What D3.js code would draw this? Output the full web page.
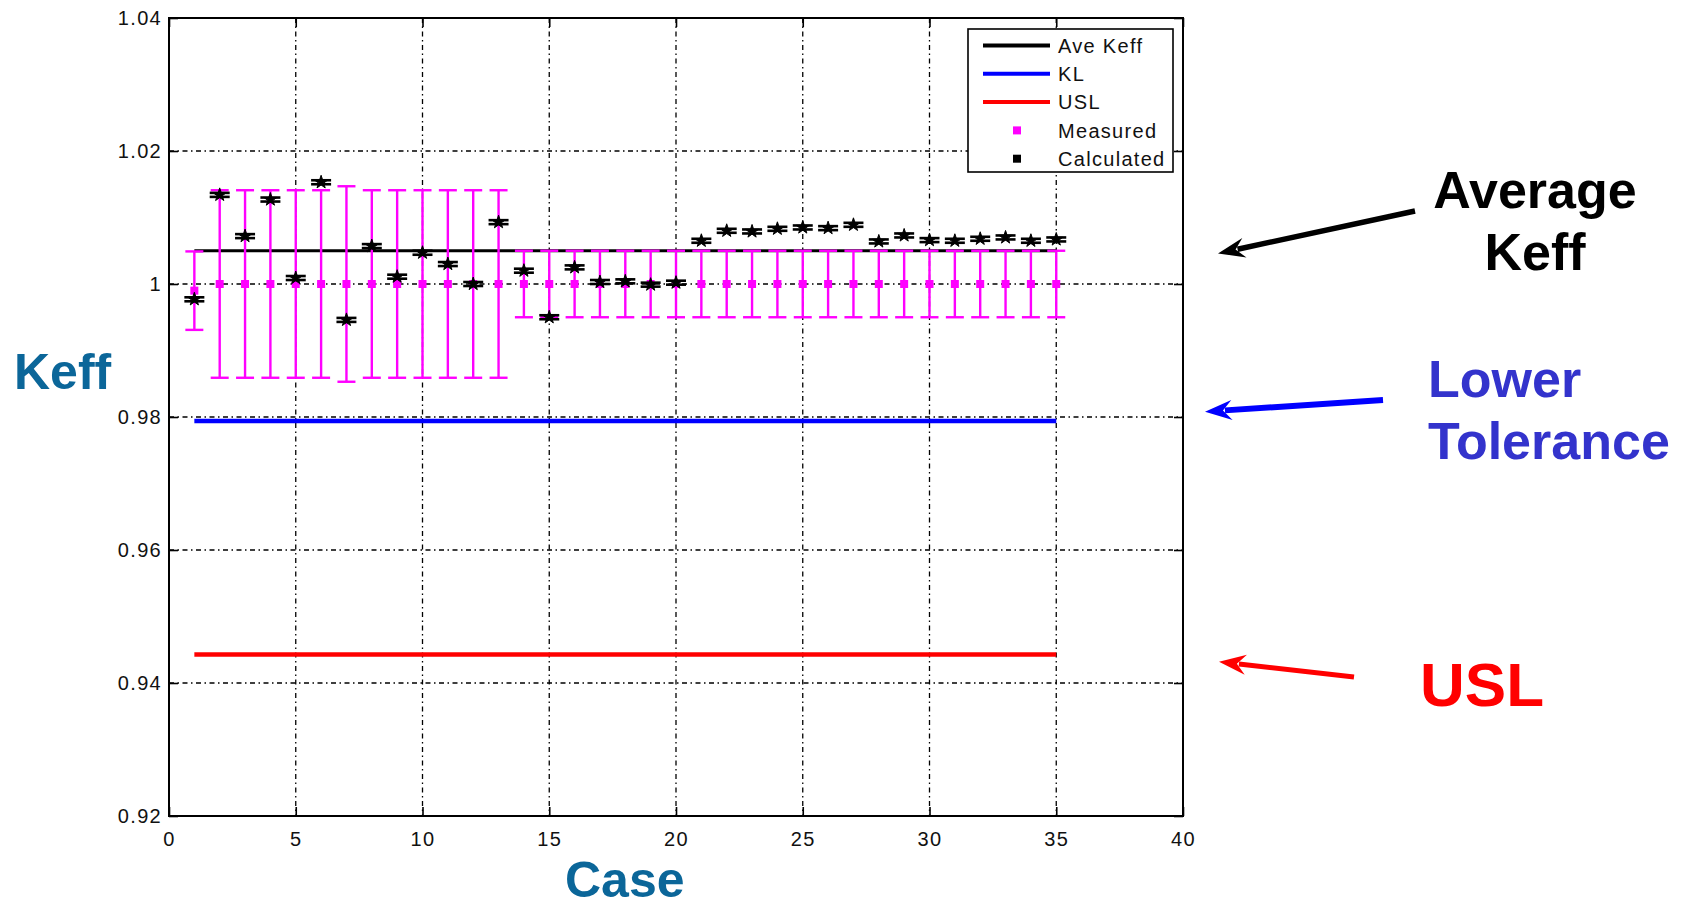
<!DOCTYPE html>
<html>
<head>
<meta charset="utf-8">
<script src="https://cdn.jsdelivr.net/npm/d3@7"></script>
<style>
  body { margin: 0; background: #fff; }
  .tick-label { font-family: "Liberation Sans", Arial, sans-serif; font-size: 20px; letter-spacing: 1.3px; fill: #111; }
  .big-label { font-family: "Liberation Sans", Arial, sans-serif; font-weight: bold; }
</style>
</head>
<body>
<div id="chart"></div>
<script>
// case numbers on the x axis
const cases = [1, 2, 3, 4, 5, 6, 7, 8, 9, 10, 11, 12, 13, 14, 15, 16, 17, 18, 19, 20,
  21, 22, 23, 24, 25, 26, 27, 28, 29, 30, 31, 32, 33, 34, 35];

// calculated keff per case
const calculated = [0.9977, 1.0134, 1.0072, 1.0127, 1.0009, 1.0153, 0.9946, 1.0057, 1.0011, 1.0047,
  1.0030, 1.0000, 1.0093, 1.0020, 0.9950, 1.0025, 1.0003, 1.0004, 0.9999, 1.0002,
  1.0065, 1.0080, 1.0079, 1.0083, 1.0085, 1.0084, 1.0089, 1.0064, 1.0073, 1.0066,
  1.0065, 1.0068, 1.0070, 1.0065, 1.0067];
const calculatedErr = 0.0003;

// measured (benchmark) keff and its uncertainty
const measured = [0.9990, 1, 1, 1, 1, 1, 1, 1, 1, 1, 1, 1, 1, 1, 1, 1, 1, 1, 1, 1,
  1, 1, 1, 1, 1, 1, 1, 1, 1, 1, 1, 1, 1, 1, 1];
const measuredErr = [0.0059, 0.0141, 0.0141, 0.0141, 0.0141, 0.0141, 0.0147, 0.0141, 0.0141, 0.0141,
  0.0141, 0.0141, 0.0141, 0.0050, 0.0050, 0.0050, 0.0050, 0.0050, 0.0050, 0.0050,
  0.0050, 0.0050, 0.0050, 0.0050, 0.0050, 0.0050, 0.0050, 0.0050, 0.0050, 0.0050,
  0.0050, 0.0050, 0.0050, 0.0050, 0.0050];

// reference lines
const aveKeff = 1.005;
const lowerLimit = 0.9794;
const usl = 0.9443;

// axes
const xTicks = [0, 5, 10, 15, 20, 25, 30, 35, 40];
const yTicks = [0.92, 0.94, 0.96, 0.98, 1, 1.02, 1.04];
const yTickLabels = ['0.92', '0.94', '0.96', '0.98', '1', '1.02', '1.04'];
const legendLabels = ['Ave Keff', 'KL', 'USL', 'Measured', 'Calculated'];

class KeffChart {
  constructor(_config) {
    this.config = {
      parentElement: _config.parentElement,
      containerWidth: 1690,
      containerHeight: 911,
      margin: { top: 18, right: 507, bottom: 95, left: 169 },
      tickLength: 9,
      gridDash: '5,3.5,1.5,3.5',
    };
    this.initVis();
  }

  initVis() {
    const vis = this;
    vis.width = vis.config.containerWidth - vis.config.margin.left - vis.config.margin.right;
    vis.height = vis.config.containerHeight - vis.config.margin.top - vis.config.margin.bottom;

    vis.svg = d3.select(vis.config.parentElement).append('svg')
      .attr('width', vis.config.containerWidth)
      .attr('height', vis.config.containerHeight);

    vis.chartArea = vis.svg.append('g')
      .attr('transform', `translate(${vis.config.margin.left},${vis.config.margin.top})`);

    vis.x = d3.scaleLinear().domain([0, 40]).range([0, vis.width]);
    vis.y = d3.scaleLinear().domain([0.92, 1.04]).range([vis.height, 0]);

    vis.renderGrid();
    vis.renderAxes();
    vis.renderVis();
    vis.renderLegend();
    vis.renderAnnotations();
  }

  renderGrid() {
    const vis = this;
    const grid = vis.chartArea.append('g')
      .attr('stroke', '#000')
      .attr('stroke-width', 1.3)
      .attr('stroke-dasharray', vis.config.gridDash);

    grid.selectAll('.vgrid')
      .data(xTicks.slice(1, -1))
      .join('line')
      .attr('class', 'vgrid')
      .attr('x1', (d) => vis.x(d)).attr('x2', (d) => vis.x(d))
      .attr('y1', 0).attr('y2', vis.height);

    grid.selectAll('.hgrid')
      .data(yTicks.slice(1, -1))
      .join('line')
      .attr('class', 'hgrid')
      .attr('y1', (d) => vis.y(d)).attr('y2', (d) => vis.y(d))
      .attr('x1', 0).attr('x2', vis.width);
  }

  renderAxes() {
    const vis = this;
    const t = vis.config.tickLength;

    const left = vis.chartArea.append('g')
      .call(d3.axisLeft(vis.y).tickValues(yTicks).tickSize(-t).tickPadding(7)
        .tickFormat((d, i) => yTickLabels[i]));
    const bottom = vis.chartArea.append('g')
      .attr('transform', `translate(0,${vis.height})`)
      .call(d3.axisBottom(vis.x).tickValues(xTicks).tickSize(-t).tickPadding(16));
    const right = vis.chartArea.append('g')
      .attr('transform', `translate(${vis.width},0)`)
      .call(d3.axisRight(vis.y).tickValues(yTicks).tickSize(-t).tickFormat(''));
    const top = vis.chartArea.append('g')
      .call(d3.axisTop(vis.x).tickValues(xTicks).tickSize(-t).tickFormat(''));

    [left, bottom, right, top].forEach((g) => {
      g.select('.domain').remove();
      g.selectAll('.tick line').attr('stroke', '#000').attr('stroke-width', 1.6);
      g.selectAll('.tick text').attr('class', 'tick-label').attr('font-size', null)
        .attr('font-family', null);
    });
    left.attr('font-size', null).attr('font-family', null);
    bottom.attr('font-size', null).attr('font-family', null);

    vis.chartArea.append('rect')
      .attr('width', vis.width)
      .attr('height', vis.height)
      .attr('fill', 'none')
      .attr('stroke', '#000')
      .attr('stroke-width', 2);
  }

  renderVis() {
    const vis = this;
    const first = cases[0];
    const last = cases[cases.length - 1];

    // reference lines
    const refs = [
      { value: aveKeff, color: '#000', width: 3 },
      { value: lowerLimit, color: '#0000ff', width: 4.5 },
      { value: usl, color: '#ff0000', width: 4.5 },
    ];
    vis.chartArea.selectAll('.ref')
      .data(refs)
      .join('line')
      .attr('class', 'ref')
      .attr('x1', vis.x(first)).attr('x2', vis.x(last))
      .attr('y1', (d) => vis.y(d.value)).attr('y2', (d) => vis.y(d.value))
      .attr('stroke', (d) => d.color)
      .attr('stroke-width', (d) => d.width);

    const points = cases.map((c, i) => ({
      c, m: measured[i], e: measuredErr[i], k: calculated[i],
    }));

    // measured error bars
    const meas = vis.chartArea.selectAll('.meas')
      .data(points)
      .join('g')
      .attr('class', 'meas')
      .attr('stroke', '#ff00ff')
      .attr('fill', '#ff00ff');
    meas.append('line')
      .attr('x1', (d) => vis.x(d.c)).attr('x2', (d) => vis.x(d.c))
      .attr('y1', (d) => vis.y(d.m + d.e)).attr('y2', (d) => vis.y(d.m - d.e))
      .attr('stroke-width', 2.4);
    [1, -1].forEach((s) => {
      meas.append('line')
        .attr('x1', (d) => vis.x(d.c) - 9).attr('x2', (d) => vis.x(d.c) + 9)
        .attr('y1', (d) => vis.y(d.m + s * d.e)).attr('y2', (d) => vis.y(d.m + s * d.e))
        .attr('stroke-width', 2.4);
    });
    meas.append('rect')
      .attr('x', (d) => vis.x(d.c) - 4).attr('y', (d) => vis.y(d.m) - 4)
      .attr('width', 8).attr('height', 8)
      .attr('stroke', 'none');

    // calculated points with tiny error bars
    const calc = vis.chartArea.selectAll('.calc')
      .data(points)
      .join('g')
      .attr('class', 'calc')
      .attr('stroke', '#000')
      .attr('fill', '#000');
    [1, -1].forEach((s) => {
      calc.append('line')
        .attr('x1', (d) => vis.x(d.c) - 10).attr('x2', (d) => vis.x(d.c) + 10)
        .attr('y1', (d) => vis.y(d.k + s * calculatedErr)).attr('y2', (d) => vis.y(d.k + s * calculatedErr))
        .attr('stroke-width', 2.6);
    });
    calc.append('path')
      .attr('transform', (d) => `translate(${vis.x(d.c)},${vis.y(d.k)})`)
      .attr('d', d3.symbol().type(d3.symbolStar).size(55))
      .attr('stroke-width', 1);
  }

  renderLegend() {
    const vis = this;
    const lx = 968; const ly = 29;
    const legend = vis.svg.append('g').attr('transform', `translate(${lx},${ly})`);
    legend.append('rect')
      .attr('width', 205).attr('height', 143)
      .attr('fill', '#fff').attr('stroke', '#000').attr('stroke-width', 1.6);

    const styles = [
      { type: 'line', color: '#000' },
      { type: 'line', color: '#0000ff' },
      { type: 'line', color: '#ff0000' },
      { type: 'square', color: '#ff00ff' },
      { type: 'square', color: '#000' },
    ];

    const items = legend.selectAll('.legend-item')
      .data(legendLabels)
      .join('g')
      .attr('class', 'legend-item')
      .attr('transform', (d, i) => `translate(0,${16.5 + i * 28.3})`);

    items.filter((d, i) => styles[i].type === 'line')
      .append('line')
      .attr('x1', 15).attr('x2', 82)
      .attr('stroke', (d) => styles[legendLabels.indexOf(d)].color)
      .attr('stroke-width', 4);
    items.filter((d, i) => styles[i].type === 'square')
      .append('rect')
      .attr('x', 45).attr('y', -4)
      .attr('width', 8).attr('height', 8)
      .attr('fill', (d) => styles[legendLabels.indexOf(d)].color);

    items.append('text')
      .attr('class', 'tick-label')
      .attr('x', 90)
      .attr('dy', '0.36em')
      .text((d) => d);
  }

  renderAnnotations() {
    const vis = this;
    const oy = vis.config.margin.top;

    // axis titles
    vis.svg.append('text')
      .attr('class', 'big-label')
      .attr('x', 14).attr('y', 389)
      .attr('font-size', 50)
      .attr('fill', '#0b6699')
      .text('Keff');
    vis.svg.append('text')
      .attr('class', 'big-label')
      .attr('x', 565).attr('y', 897)
      .attr('font-size', 50)
      .attr('fill', '#0b6699')
      .text('Case');

    const notes = [
      { lines: ['Average', 'Keff'], color: '#000', arrow: '#000', size: 52, x: 1535, anchor: 'middle', ys: [208, 270],
        tail: [1415, 211], tipX: 1218, tipValue: 1.0046, width: 5.5 },
      { lines: ['Lower', 'Tolerance'], color: '#3333cc', arrow: '#0000ff', size: 52, x: 1428, anchor: 'start', ys: [397, 459],
        tail: [1383, 400], tipX: 1205, tipValue: 0.9808, width: 6 },
      { lines: ['USL'], color: '#ff0000', arrow: '#ff0000', size: 62, x: 1420, anchor: 'start', ys: [706],
        tail: [1354, 677], tipX: 1219, tipValue: 0.9432, width: 5 },
    ];

    notes.forEach((n) => {
      n.lines.forEach((line, i) => {
        vis.svg.append('text')
          .attr('class', 'big-label')
          .attr('x', n.x).attr('y', n.ys[i])
          .attr('text-anchor', n.anchor)
          .attr('font-size', n.size)
          .attr('fill', n.color)
          .text(line);
      });
      const tip = [n.tipX, oy + vis.y(n.tipValue)];
      vis.drawArrow(n.tail, tip, n.arrow, n.width);
    });
  }

  drawArrow(from, to, color, width) {
    const vis = this;
    const headLen = 24; const headHalf = 10;
    const ang = Math.atan2(to[1] - from[1], to[0] - from[0]);
    const bx = to[0] - headLen * Math.cos(ang);
    const by = to[1] - headLen * Math.sin(ang);
    vis.svg.append('line')
      .attr('x1', from[0]).attr('y1', from[1])
      .attr('x2', bx + 4 * Math.cos(ang)).attr('y2', by + 4 * Math.sin(ang))
      .attr('stroke', color)
      .attr('stroke-width', width);
    const px = -Math.sin(ang); const py = Math.cos(ang);
    const pts = [
      to,
      [bx - 3 * Math.cos(ang) + headHalf * px, by - 3 * Math.sin(ang) + headHalf * py],
      [bx + 6 * Math.cos(ang), by + 6 * Math.sin(ang)],
      [bx - 3 * Math.cos(ang) - headHalf * px, by - 3 * Math.sin(ang) - headHalf * py],
    ];
    vis.svg.append('polygon')
      .attr('points', pts.map((p) => p.join(',')).join(' '))
      .attr('fill', color);
  }
}

const chart = new KeffChart({ parentElement: '#chart' });
</script>
</body>
</html>
